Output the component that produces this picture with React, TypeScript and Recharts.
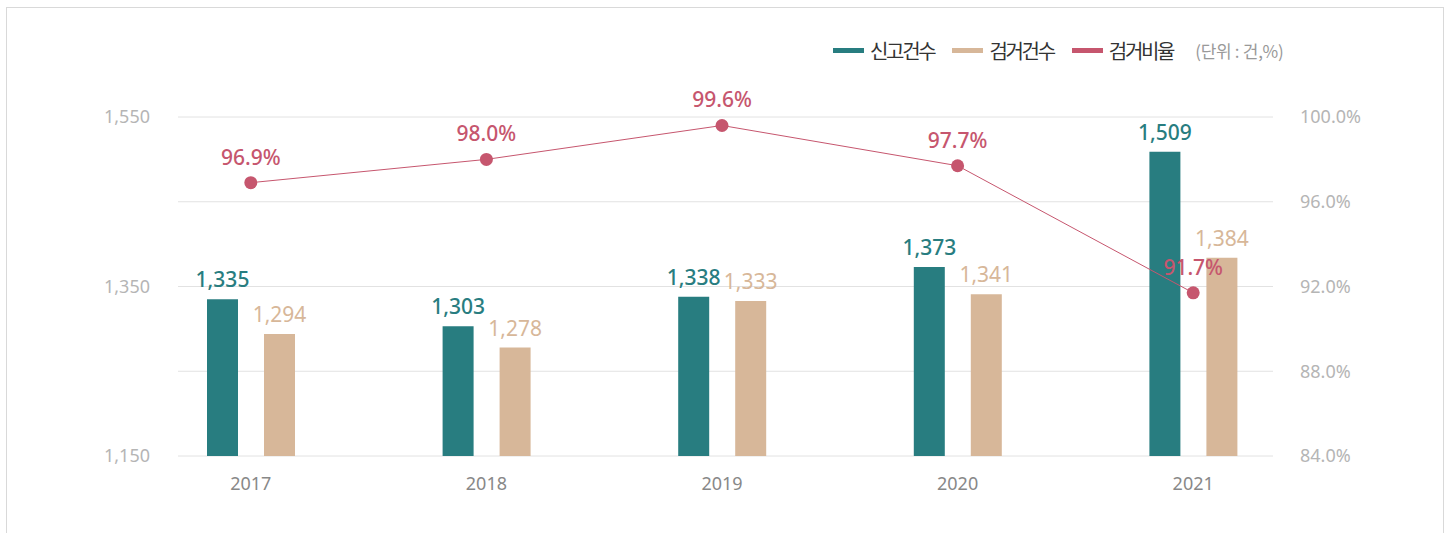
import { Bar, CartesianGrid, ComposedChart, LabelList, Line, XAxis, YAxis } from 'recharts';

const years = ['2017', '2018', '2019', '2020', '2021'];
const reports = [1335, 1303, 1338, 1373, 1509];
const arrests = [1294, 1278, 1333, 1341, 1384];
const rates = [96.9, 98.0, 99.6, 97.7, 91.7];

const countTicks = [1150, 1250, 1350, 1450, 1550];
const shownCountTicks = [1150, 1350, 1550];
const rateTicks = [84, 88, 92, 96, 100];

const seriesNames = ['신고건수', '검거건수', '검거비율'];
const unitText = '(단위 : 건,%)';

const TEAL = '#287d80';
const TAN = '#d7b799';
const PINK = '#c6566e';
const FONT = "'Noto Sans', 'Noto Sans CJK KR', sans-serif";

const data = years.map((year, i) => ({
  year,
  reports: reports[i],
  arrests: arrests[i],
  rate: rates[i],
}));

const fmtCount = (v: any) => Number(v).toLocaleString('en-US');
const fmtRate = (v: any) => `${Number(v).toFixed(1)}%`;

export default function App() {
  const legendColors = [TEAL, TAN, PINK];
  return (
    <div
      style={{
        position: 'absolute',
        left: 0,
        top: 0,
        width: 1451,
        height: 533,
        overflow: 'hidden',
        background: '#fff',
        fontFamily: FONT,
      }}
    >
      <div
        style={{
          position: 'absolute',
          left: 6,
          top: 7,
          width: 1436,
          height: 560,
          border: '1px solid #d9d9d9',
        }}
      />
      <div
        style={{
          position: 'absolute',
          left: 833,
          top: 36,
          height: 28,
          display: 'flex',
          alignItems: 'center',
          fontFamily: "'Noto Sans CJK KR', sans-serif",
        }}
      >
        {seriesNames.map((name, i) => (
          <div key={name} style={{ display: 'flex', alignItems: 'center', marginRight: 18 }}>
            <span style={{ width: 31, height: 5, background: legendColors[i], marginRight: 6 }} />
            <span style={{ fontSize: 20, letterSpacing: -2.3, color: '#333' }}>{name}</span>
          </div>
        ))}
        <span style={{ fontSize: 17, color: '#999', marginLeft: 4, letterSpacing: -0.3 }}>{unitText}</span>
      </div>
      <ComposedChart
        width={1451}
        height={533}
        data={data}
        margin={{ top: 117, right: 78, bottom: 37, left: 118 }}
        barGap={26}
        style={{ position: 'absolute', left: 0, top: 0 }}
      >
        <CartesianGrid yAxisId="left" vertical={false} stroke="#e2e2e2" strokeWidth={1} />
        <XAxis
          dataKey="year"
          height={40}
          axisLine={false}
          tickLine={false}
          tickSize={0}
          tickMargin={21}
          padding={{ left: -45, right: -38 }}
          tick={{ fill: '#888', fontSize: 18, fontFamily: FONT }}
        />
        <YAxis
          yAxisId="left"
          width={60}
          domain={[1150, 1550]}
          ticks={countTicks}
          allowDataOverflow
          axisLine={false}
          tickLine={false}
          tickSize={0}
          tickMargin={28}
          tickFormatter={(v: number) => (shownCountTicks.includes(v) ? fmtCount(v) : '')}
          tick={{ fill: '#b5b5b5', fontSize: 18, fontFamily: FONT }}
        />
        <YAxis
          yAxisId="right"
          orientation="right"
          width={100}
          domain={[84, 100]}
          ticks={rateTicks}
          allowDataOverflow
          axisLine={false}
          tickLine={false}
          tickSize={0}
          tickMargin={27}
          tickFormatter={fmtRate}
          tick={{ fill: '#b5b5b5', fontSize: 18, fontFamily: FONT, textAnchor: 'start' }}
        />
        <Bar yAxisId="left" dataKey="reports" name={seriesNames[0]} fill={TEAL} barSize={31} isAnimationActive={false}>
          <LabelList
            dataKey="reports"
            position="top"
            offset={12}
            formatter={fmtCount}
            fill={TEAL}
            fontSize={21}
            fontFamily={FONT}
            fontWeight={500}
          />
        </Bar>
        <Bar yAxisId="left" dataKey="arrests" name={seriesNames[1]} fill={TAN} barSize={31} isAnimationActive={false}>
          <LabelList
            dataKey="arrests"
            position="top"
            offset={12}
            formatter={fmtCount}
            fill={TAN}
            fontSize={21}
            fontFamily={FONT}
          />
        </Bar>
        <Line
          yAxisId="right"
          dataKey="rate"
          name={seriesNames[2]}
          stroke={PINK}
          strokeWidth={1}
          dot={{ r: 6.5, fill: PINK, stroke: PINK, strokeWidth: 0 }}
          activeDot={false}
          isAnimationActive={false}
        >
          <LabelList
            dataKey="rate"
            position="top"
            offset={18}
            formatter={fmtRate}
            fill={PINK}
            fontSize={21}
            fontFamily={FONT}
            fontWeight={500}
          />
        </Line>
      </ComposedChart>
    </div>
  );
}
